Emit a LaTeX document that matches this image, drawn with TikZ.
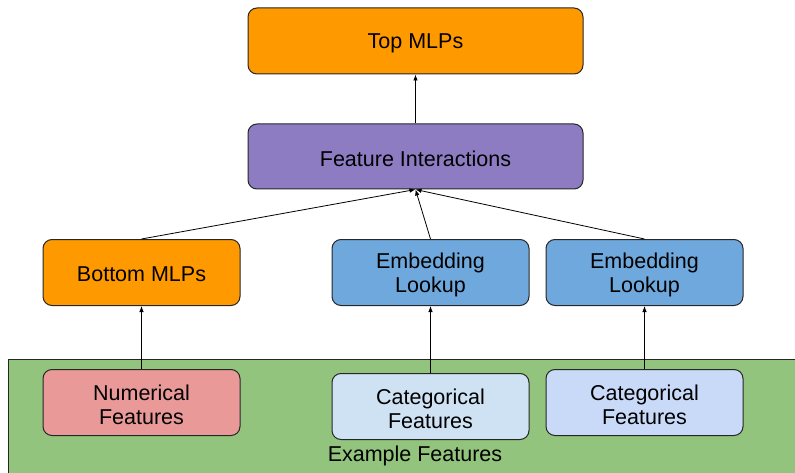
\documentclass[tikz,border=0pt]{standalone}
\usepackage{fontspec}
\setmainfont{Liberation Sans}
\usetikzlibrary{arrows.meta}
\definecolor{orangeF}{HTML}{FF9900}
\definecolor{purpleF}{HTML}{8E7CC3}
\definecolor{blueF}{HTML}{6FA8DC}
\definecolor{redF}{HTML}{EA9999}
\definecolor{lightblueA}{HTML}{CFE2F3}
\definecolor{lightblueB}{HTML}{C9DAF8}
\definecolor{greenF}{HTML}{93C47D}
\definecolor{edgeC}{HTML}{262626}
\tikzset{
  txt/.style={align=center, inner sep=0pt, font=\fontsize{21.5}{24}\selectfont},
  box/.style={draw=edgeC, line width=1pt, rounded corners=9pt, inner sep=0pt,
    minimum width=197pt, minimum height=66pt},
  wide/.style={box, minimum width=335pt},
  tag/.style={label={[txt, yshift=-2pt]center:{#1}}},
  link/.style={draw=black, line width=0.8pt, -{Latex[length=6pt,width=4.5pt]}}
}
\begin{document}
\begin{tikzpicture}[x=1pt,y=-1pt]
\useasboundingbox (0,0) rectangle (795,473);
\clip (0,0) rectangle (795,473);
% input feature panel
\draw[draw=edgeC, line width=1pt, fill=greenF] (8,359.5) rectangle (810,490);
\node[txt] (ex) at (415,455.5) {Example Features};
% model blocks
\node[wide, fill=orangeF, tag={Top MLPs}] (top) at (415.5,41) {};
\node[wide, fill=purpleF, minimum height=65pt, tag={Feature Interactions}] (fi) at (415.5,156.5) {};
\node[box, fill=orangeF, tag={Bottom MLPs}] (bot) at (141.5,272.5) {};
\node[box, fill=blueF, tag={Embedding\\Lookup}] (emb1) at (430.5,272.5) {};
\node[box, fill=blueF, tag={Embedding\\Lookup}] (emb2) at (644.5,272.5) {};
% input features
\node[box, fill=redF, tag={Numerical\\Features}] (num) at (141.5,402.5) {};
\node[box, fill=lightblueA, tag={Categorical\\Features}] (cat1) at (430.5,406.5) {};
\node[box, fill=lightblueB, tag={Categorical\\Features}] (cat2) at (644.5,402.5) {};
% connectors
\draw[link] (fi.north) -- (top.south);
\draw[link] (bot.north) -- (fi.south);
\draw[link] (emb1.north) -- (fi.south);
\draw[link] (emb2.north) -- (fi.south);
\draw[link] (num.north) -- (bot.south);
\draw[link] (cat1.north) -- (emb1.south);
\draw[link] (cat2.north) -- (emb2.south);
\end{tikzpicture}
\end{document}
